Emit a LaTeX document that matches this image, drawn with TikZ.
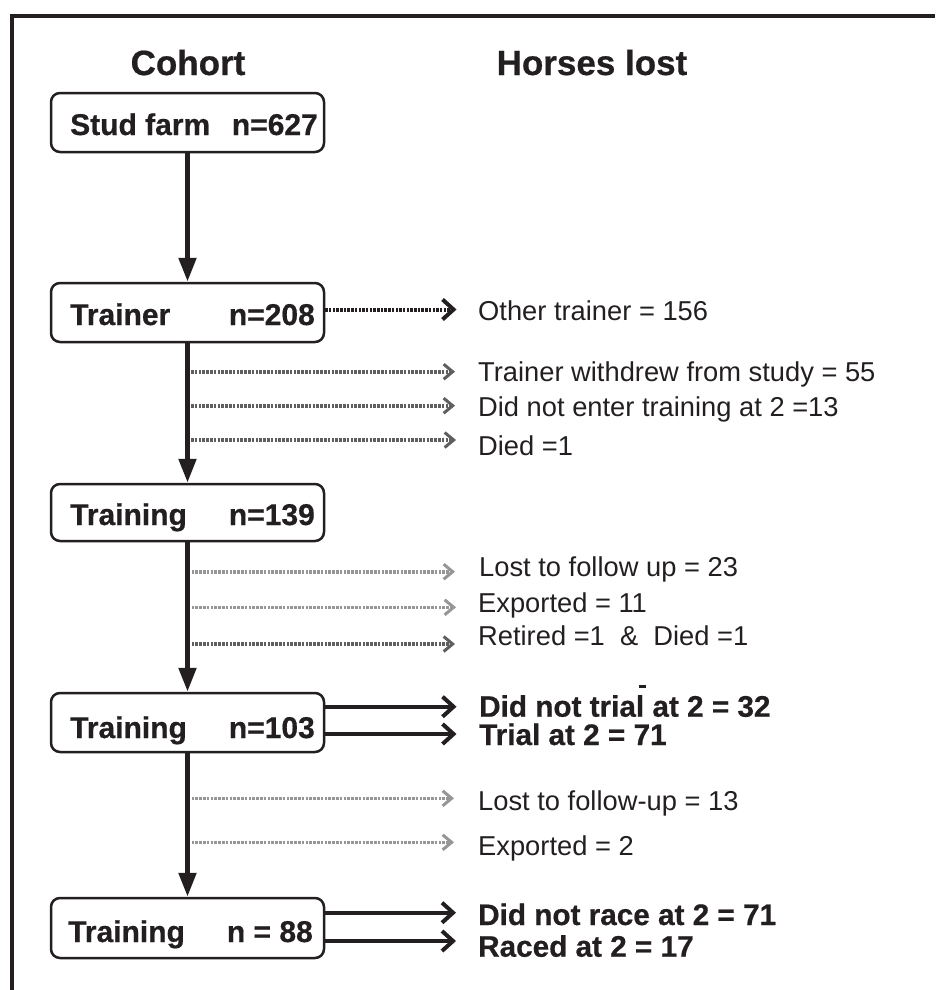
\documentclass[tikz,border=0pt]{standalone}
\usepackage{fontspec}
\setmainfont{Liberation Sans}
\newfontfamily\heavyfont[FakeBold=0.6]{Liberation Sans Bold}
\usetikzlibrary{arrows.meta}
\definecolor{ink}{RGB}{35,31,32}
\definecolor{gA}{RGB}{95,95,95}
\definecolor{gB}{RGB}{150,150,150}
\begin{document}
\begin{tikzpicture}[x=1pt,y=-1pt,
  box/.style={draw=ink, line width=2.5pt, rounded corners=9pt, minimum width=273pt, minimum height=59pt, inner sep=0pt},
  boxtxt/.style={font=\fontsize{30}{36}\heavyfont, text=ink, inner sep=0pt},
  title/.style={font=\fontsize{35}{42}\heavyfont, text=ink, inner sep=0pt, anchor=base},
  lbl/.style={font=\fontsize{27.3}{32}\selectfont, text=ink, inner sep=0pt, anchor=base west},
  blbl/.style={font=\fontsize{29.7}{35}\heavyfont, text=ink, inner sep=0pt, anchor=base west},
  down/.style={draw=ink, line width=5pt, -{Triangle[length=24pt,width=17pt]}},
  solidarr/.style={draw=ink, line width=4pt, -{Straight Barb[length=11pt,width=20pt]}},
  blackdot/.style={draw=ink, line width=4pt, dash pattern=on 2.5pt off 1.2pt, -{Straight Barb[length=11pt,width=20pt]}},
  graydot/.style={draw=#1, line width=3.6pt, dash pattern=on 2.6pt off 1.2pt, -{Straight Barb[length=9pt,width=15pt,line width=3pt]}},
]
\useasboundingbox (0,0) rectangle (935,990);
% frame
\draw[ink, line width=4pt] (11.5,990) -- (11.5,16) -- (935,16);

% titles
\node[title] (tc) at (188,75) {Cohort};
\node[title] (th) at (592,75) {Horses lost};

% boxes
\node[box] (b1) at (187.5,122.5) {};
\node[box] (b2) at (187.5,312.5) {};
\node[box, minimum height=57pt] (b3) at (187.5,512.5) {};
\node[box] (b4) at (187.5,722.5) {};
\node[box, minimum height=60pt] (b5) at (187.5,928) {};

\node[boxtxt, anchor=base west] (b1l) at (70,135) {Stud farm};
\node[boxtxt, anchor=base east] (b1r) at (318,135) {n=627};
\node[boxtxt, anchor=base west] (b2l) at (70,325) {Trainer};
\node[boxtxt, anchor=base east] (b2r) at (315,325) {n=208};
\node[boxtxt, anchor=base west] (b3l) at (70,525) {Training};
\node[boxtxt, anchor=base east] (b3r) at (315,525) {n=139};
\node[boxtxt, anchor=base west] (b4l) at (70,738) {Training};
\node[boxtxt, anchor=base east] (b4r) at (315,738) {n=103};
\node[boxtxt, anchor=base west] (b5l) at (68,942) {Training};
\node[boxtxt, anchor=base east] (b5r) at (313,942) {n = 88};

% vertical arrows
\draw[down] (b1.south) -- (b2.north);
\draw[down] (b2.south) -- (b3.north);
\draw[down] (b3.south) -- (b4.north);
\draw[down] (b4.south) -- (b5.north);

% other trainer
\coordinate (o1) at (456.5,309.5);
\draw[blackdot] (b2.east |- o1) -- (o1);
\node[lbl] (l1) at (478,320.7) {Other trainer = 156};

% group 1
\coordinate (s11) at (191,371.7); \coordinate (e11) at (455,371.7);
\coordinate (s12) at (191,405.7); \coordinate (e12) at (455,405.7);
\coordinate (s13) at (191,440);   \coordinate (e13) at (456,440);
\draw[graydot=gA] (s11) -- (e11);
\draw[graydot=gA] (s12) -- (e12);
\draw[graydot=gA] (s13) -- (e13);
\node[lbl] (l11) at (478,381.7) {Trainer withdrew from study = 55};
\node[lbl] (l12) at (478,416) {Did not enter training at 2 =13};
\node[lbl] (l13) at (478,455) {Died =1};

% group 2
\coordinate (s21) at (191.5,571.7); \coordinate (e21) at (455,571.7);
\coordinate (s22) at (191.5,607.3); \coordinate (e22) at (456,607.3);
\coordinate (s23) at (191.5,644);   \coordinate (e23) at (455,644);
\draw[graydot=gB] (s21) -- (e21);
\draw[graydot=gB] (s22) -- (e22);
\draw[graydot=gA] (s23) -- (e23);
\node[lbl] (l21) at (479,576) {Lost to follow up = 23};
\node[lbl] (l22) at (478,612) {Exported = 11};
\node[lbl] (l23) at (478,645) {Retired =1\ \ \&\ \ Died =1};

% box 4 outcomes
\coordinate (t41) at (456.5,706.7);
\coordinate (t42) at (456.5,734);
\draw[solidarr] (b4.east |- t41) -- (t41);
\draw[solidarr] (b4.east |- t42) -- (t42);
\node[blbl] (l41) at (479,716.7) {Did not trial at 2 = 32};
\node[blbl] (l42) at (479,745) {Trial at 2 = 71};
\draw[ink, line width=3pt] (639,686.5) -- (646,686.5);

% group 3
\coordinate (s31) at (191.5,798.3); \coordinate (e31) at (454,798.3);
\coordinate (s32) at (191.5,842.3); \coordinate (e32) at (454,842.3);
\draw[graydot=gB] (s31) -- (e31);
\draw[graydot=gB] (s32) -- (e32);
\node[lbl] (l31) at (478,810) {Lost to follow-up = 13};
\node[lbl] (l32) at (478,855) {Exported = 2};

% box 5 outcomes
\coordinate (t51) at (456,912.7);
\coordinate (t52) at (456,941);
\draw[solidarr] (b5.east |- t51) -- (t51);
\draw[solidarr] (b5.east |- t52) -- (t52);
\node[blbl] (l51) at (478,925) {Did not race at 2 = 71};
\node[blbl] (l52) at (478,956.7) {Raced at 2 = 17};
\end{tikzpicture}
\end{document}
